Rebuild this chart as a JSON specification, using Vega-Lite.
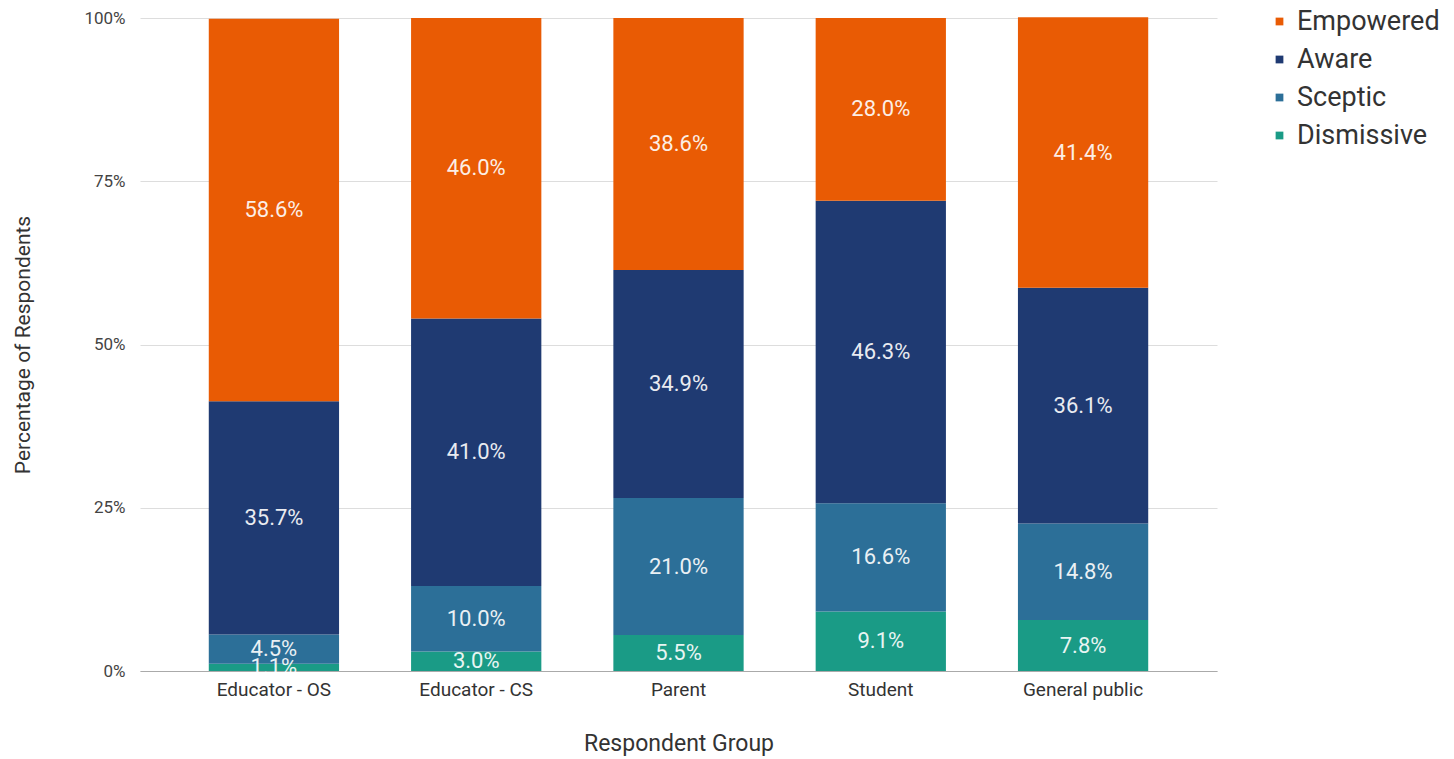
{
  "$schema": "https://vega.github.io/schema/vega-lite/v6.json",
  "autosize": "none",
  "width": 1077,
  "height": 653,
  "padding": {"left": 140, "top": 18, "right": 237, "bottom": 88},
  "background": "white",
  "config": {
    "font": "Roboto",
    "view": {"stroke": null}
  },
  "data": {
    "values": [
      {"group": "Educator - OS", "category": "Dismissive", "k": 1, "value": 1.1},
      {"group": "Educator - OS", "category": "Sceptic", "k": 2, "value": 4.5},
      {"group": "Educator - OS", "category": "Aware", "k": 3, "value": 35.7},
      {"group": "Educator - OS", "category": "Empowered", "k": 4, "value": 58.6},
      {"group": "Educator - CS", "category": "Dismissive", "k": 1, "value": 3.0},
      {"group": "Educator - CS", "category": "Sceptic", "k": 2, "value": 10.0},
      {"group": "Educator - CS", "category": "Aware", "k": 3, "value": 41.0},
      {"group": "Educator - CS", "category": "Empowered", "k": 4, "value": 46.0},
      {"group": "Parent", "category": "Dismissive", "k": 1, "value": 5.5},
      {"group": "Parent", "category": "Sceptic", "k": 2, "value": 21.0},
      {"group": "Parent", "category": "Aware", "k": 3, "value": 34.9},
      {"group": "Parent", "category": "Empowered", "k": 4, "value": 38.6},
      {"group": "Student", "category": "Dismissive", "k": 1, "value": 9.1},
      {"group": "Student", "category": "Sceptic", "k": 2, "value": 16.6},
      {"group": "Student", "category": "Aware", "k": 3, "value": 46.3},
      {"group": "Student", "category": "Empowered", "k": 4, "value": 28.0},
      {"group": "General public", "category": "Dismissive", "k": 1, "value": 7.8},
      {"group": "General public", "category": "Sceptic", "k": 2, "value": 14.8},
      {"group": "General public", "category": "Aware", "k": 3, "value": 36.1},
      {"group": "General public", "category": "Empowered", "k": 4, "value": 41.4}
    ]
  },
  "transform": [
    {"stack": "value", "groupby": ["group"], "sort": [{"field": "k", "order": "ascending"}], "as": ["y0", "y1"]},
    {"calculate": "(datum.y0 + datum.y1) / 2", "as": "ymid"},
    {"calculate": "format(datum.value, '.1f') + '%'", "as": "label"}
  ],
  "encoding": {
    "x": {
      "field": "group",
      "type": "nominal",
      "sort": ["Educator - OS", "Educator - CS", "Parent", "Student", "General public"],
      "scale": {"paddingInner": 0.356, "paddingOuter": 0.34},
      "axis": {
        "title": "Respondent Group",
        "titleFontSize": 23,
        "titleFontWeight": "normal",
        "titleColor": "#333333",
        "titlePadding": 33,
        "labelAngle": 0,
        "labelFontSize": 19,
        "labelColor": "#333333",
        "labelPadding": 9,
        "ticks": false,
        "domainColor": "#aaaaaa",
        "domainWidth": 1
      }
    }
  },
  "layer": [
    {
      "mark": {"type": "bar"},
      "encoding": {
        "y": {
          "field": "y0",
          "type": "quantitative",
          "scale": {"domain": [0, 100], "nice": false},
          "axis": {
            "title": "Percentage of Respondents",
            "titleFontSize": 21,
            "titleFontWeight": "normal",
            "titleColor": "#333333",
            "titlePadding": 50,
            "values": [0, 25, 50, 75, 100],
            "labelExpr": "datum.value + '%'",
            "labelFontSize": 17,
            "labelColor": "#444444",
            "labelPadding": 15,
            "ticks": false,
            "domain": false,
            "grid": true,
            "gridColor": "#dddddd"
          }
        },
        "y2": {"field": "y1"},
        "color": {
          "field": "category",
          "type": "nominal",
          "scale": {
            "domain": ["Empowered", "Aware", "Sceptic", "Dismissive"],
            "range": ["#E95B04", "#1F3A72", "#2C6F98", "#1A9B86"]
          },
          "legend": {
            "title": null,
            "orient": "none",
            "legendX": 1126,
            "legendY": -10,
            "symbolType": "square",
            "symbolSize": 60,
            "symbolStrokeWidth": 0,
            "labelFontSize": 27,
            "labelColor": "#333333",
            "labelOffset": 4,
            "rowPadding": 10
          }
        }
      }
    },
    {
      "mark": {"type": "text", "fontSize": 22, "fill": "white", "opacity": 0.9},
      "encoding": {
        "y": {"field": "ymid", "type": "quantitative"},
        "text": {"field": "label"}
      }
    }
  ]
}
